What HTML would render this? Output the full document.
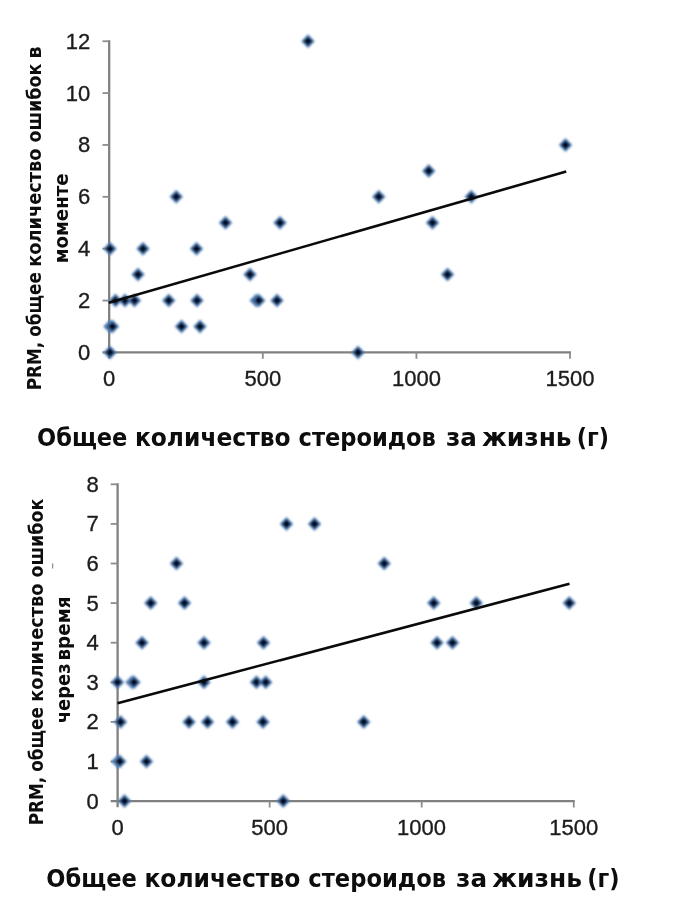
<!DOCTYPE html>
<html lang="ru">
<head>
<meta charset="utf-8">
<title>PRM и общее количество стероидов за жизнь</title>
<style>
html,body{margin:0;padding:0;background:#fff;}
body{width:680px;height:901px;overflow:hidden;position:relative;}
svg{position:absolute;left:0;top:0;display:block;}
.num{font-family:"Liberation Sans", "DejaVu Sans", sans-serif;font-size:22px;fill:#1c1c1c;stroke:#1c1c1c;stroke-width:0.35px;}
.ttl{font-family:"DejaVu Sans Condensed", "DejaVu Sans", "Liberation Sans", sans-serif;font-weight:700;font-size:25.4px;fill:#0d0d0d;}
.mo{fill:#5a88c0;}
.mi{fill:#050f26;}
.yl{font-family:"DejaVu Sans Condensed", "DejaVu Sans", "Liberation Sans", sans-serif;font-weight:700;font-size:19.6px;fill:#0d0d0d;}
</style>
</head>
<body>
<svg width="680" height="901" viewBox="0 0 680 901">
<defs>
<filter id="b" x="-5%" y="-5%" width="110%" height="110%"><feGaussianBlur stdDeviation="0.8"/></filter>
</defs>
<rect width="680" height="901" fill="#ffffff"/>

<g stroke="#808080" stroke-width="2.3" fill="none" stroke-linecap="butt">
<path d="M109.20,40.24 V358.60"/>
<path d="M102.50,352.40 H571.00"/>
<path d="M102.50,300.54 H109.20" stroke-width="1.8" stroke="#8c8c8c"/>
<path d="M102.50,248.68 H109.20" stroke-width="1.8" stroke="#8c8c8c"/>
<path d="M102.50,196.82 H109.20" stroke-width="1.8" stroke="#8c8c8c"/>
<path d="M102.50,144.96 H109.20" stroke-width="1.8" stroke="#8c8c8c"/>
<path d="M102.50,93.10 H109.20" stroke-width="1.8" stroke="#8c8c8c"/>
<path d="M102.50,41.24 H109.20" stroke-width="1.8" stroke="#8c8c8c"/>
<path d="M262.80,352.40 V358.80" stroke-width="1.8" stroke="#8c8c8c"/>
<path d="M416.40,352.40 V358.80" stroke-width="1.8" stroke="#8c8c8c"/>
<path d="M570.00,352.40 V358.80" stroke-width="1.8" stroke="#8c8c8c"/>
</g>
<text class="num" x="90.30" y="359.80" text-anchor="end">0</text>
<text class="num" x="90.30" y="307.94" text-anchor="end">2</text>
<text class="num" x="90.30" y="256.08" text-anchor="end">4</text>
<text class="num" x="90.30" y="204.22" text-anchor="end">6</text>
<text class="num" x="90.30" y="152.36" text-anchor="end">8</text>
<text class="num" x="90.30" y="100.50" text-anchor="end">10</text>
<text class="num" x="90.30" y="48.64" text-anchor="end">12</text>
<text class="num" x="109.20" y="386.20" text-anchor="middle">0</text>
<text class="num" x="262.80" y="386.20" text-anchor="middle">500</text>
<text class="num" x="416.40" y="386.20" text-anchor="middle">1000</text>
<text class="num" x="570.00" y="386.20" text-anchor="middle">1500</text>
<g filter="url(#b)">
<g transform="translate(110.00 352.40)"><path class="mo" d="M0,-7 L6.8,0 L0,7 L-6.8,0 Z"/><path class="mi" d="M0,-4.8 L4.8,0 L0,4.8 L-4.8,0 Z"/></g>
<g transform="translate(110.00 326.47)"><path class="mo" d="M0,-7 L6.8,0 L0,7 L-6.8,0 Z"/><path class="mi" d="M0,-4.8 L4.8,0 L0,4.8 L-4.8,0 Z"/></g>
<g transform="translate(112.50 326.47)"><path class="mo" d="M0,-7 L6.8,0 L0,7 L-6.8,0 Z"/><path class="mi" d="M0,-4.8 L4.8,0 L0,4.8 L-4.8,0 Z"/></g>
<g transform="translate(110.00 248.68)"><path class="mo" d="M0,-7 L6.8,0 L0,7 L-6.8,0 Z"/><path class="mi" d="M0,-4.8 L4.8,0 L0,4.8 L-4.8,0 Z"/></g>
<g transform="translate(115.50 300.54)"><path class="mo" d="M0,-7 L6.8,0 L0,7 L-6.8,0 Z"/><path class="mi" d="M0,-4.8 L4.8,0 L0,4.8 L-4.8,0 Z"/></g>
<g transform="translate(125.00 300.54)"><path class="mo" d="M0,-7 L6.8,0 L0,7 L-6.8,0 Z"/><path class="mi" d="M0,-4.8 L4.8,0 L0,4.8 L-4.8,0 Z"/></g>
<g transform="translate(134.50 300.54)"><path class="mo" d="M0,-7 L6.8,0 L0,7 L-6.8,0 Z"/><path class="mi" d="M0,-4.8 L4.8,0 L0,4.8 L-4.8,0 Z"/></g>
<g transform="translate(138.00 274.61)"><path class="mo" d="M0,-7 L6.8,0 L0,7 L-6.8,0 Z"/><path class="mi" d="M0,-4.8 L4.8,0 L0,4.8 L-4.8,0 Z"/></g>
<g transform="translate(143.00 248.68)"><path class="mo" d="M0,-7 L6.8,0 L0,7 L-6.8,0 Z"/><path class="mi" d="M0,-4.8 L4.8,0 L0,4.8 L-4.8,0 Z"/></g>
<g transform="translate(168.75 300.54)"><path class="mo" d="M0,-7 L6.8,0 L0,7 L-6.8,0 Z"/><path class="mi" d="M0,-4.8 L4.8,0 L0,4.8 L-4.8,0 Z"/></g>
<g transform="translate(176.25 196.82)"><path class="mo" d="M0,-7 L6.8,0 L0,7 L-6.8,0 Z"/><path class="mi" d="M0,-4.8 L4.8,0 L0,4.8 L-4.8,0 Z"/></g>
<g transform="translate(181.50 326.47)"><path class="mo" d="M0,-7 L6.8,0 L0,7 L-6.8,0 Z"/><path class="mi" d="M0,-4.8 L4.8,0 L0,4.8 L-4.8,0 Z"/></g>
<g transform="translate(196.50 248.68)"><path class="mo" d="M0,-7 L6.8,0 L0,7 L-6.8,0 Z"/><path class="mi" d="M0,-4.8 L4.8,0 L0,4.8 L-4.8,0 Z"/></g>
<g transform="translate(197.00 300.54)"><path class="mo" d="M0,-7 L6.8,0 L0,7 L-6.8,0 Z"/><path class="mi" d="M0,-4.8 L4.8,0 L0,4.8 L-4.8,0 Z"/></g>
<g transform="translate(200.00 326.47)"><path class="mo" d="M0,-7 L6.8,0 L0,7 L-6.8,0 Z"/><path class="mi" d="M0,-4.8 L4.8,0 L0,4.8 L-4.8,0 Z"/></g>
<g transform="translate(225.50 222.75)"><path class="mo" d="M0,-7 L6.8,0 L0,7 L-6.8,0 Z"/><path class="mi" d="M0,-4.8 L4.8,0 L0,4.8 L-4.8,0 Z"/></g>
<g transform="translate(250.00 274.61)"><path class="mo" d="M0,-7 L6.8,0 L0,7 L-6.8,0 Z"/><path class="mi" d="M0,-4.8 L4.8,0 L0,4.8 L-4.8,0 Z"/></g>
<g transform="translate(256.25 300.54)"><path class="mo" d="M0,-7 L6.8,0 L0,7 L-6.8,0 Z"/><path class="mi" d="M0,-4.8 L4.8,0 L0,4.8 L-4.8,0 Z"/></g>
<g transform="translate(258.75 300.54)"><path class="mo" d="M0,-7 L6.8,0 L0,7 L-6.8,0 Z"/><path class="mi" d="M0,-4.8 L4.8,0 L0,4.8 L-4.8,0 Z"/></g>
<g transform="translate(277.00 300.54)"><path class="mo" d="M0,-7 L6.8,0 L0,7 L-6.8,0 Z"/><path class="mi" d="M0,-4.8 L4.8,0 L0,4.8 L-4.8,0 Z"/></g>
<g transform="translate(280.00 222.75)"><path class="mo" d="M0,-7 L6.8,0 L0,7 L-6.8,0 Z"/><path class="mi" d="M0,-4.8 L4.8,0 L0,4.8 L-4.8,0 Z"/></g>
<g transform="translate(308.00 41.24)"><path class="mo" d="M0,-7 L6.8,0 L0,7 L-6.8,0 Z"/><path class="mi" d="M0,-4.8 L4.8,0 L0,4.8 L-4.8,0 Z"/></g>
<g transform="translate(358.00 352.40)"><path class="mo" d="M0,-7 L6.8,0 L0,7 L-6.8,0 Z"/><path class="mi" d="M0,-4.8 L4.8,0 L0,4.8 L-4.8,0 Z"/></g>
<g transform="translate(378.75 196.82)"><path class="mo" d="M0,-7 L6.8,0 L0,7 L-6.8,0 Z"/><path class="mi" d="M0,-4.8 L4.8,0 L0,4.8 L-4.8,0 Z"/></g>
<g transform="translate(428.75 170.89)"><path class="mo" d="M0,-7 L6.8,0 L0,7 L-6.8,0 Z"/><path class="mi" d="M0,-4.8 L4.8,0 L0,4.8 L-4.8,0 Z"/></g>
<g transform="translate(432.50 222.75)"><path class="mo" d="M0,-7 L6.8,0 L0,7 L-6.8,0 Z"/><path class="mi" d="M0,-4.8 L4.8,0 L0,4.8 L-4.8,0 Z"/></g>
<g transform="translate(447.50 274.61)"><path class="mo" d="M0,-7 L6.8,0 L0,7 L-6.8,0 Z"/><path class="mi" d="M0,-4.8 L4.8,0 L0,4.8 L-4.8,0 Z"/></g>
<g transform="translate(471.25 196.82)"><path class="mo" d="M0,-7 L6.8,0 L0,7 L-6.8,0 Z"/><path class="mi" d="M0,-4.8 L4.8,0 L0,4.8 L-4.8,0 Z"/></g>
<g transform="translate(565.50 144.96)"><path class="mo" d="M0,-7 L6.8,0 L0,7 L-6.8,0 Z"/><path class="mi" d="M0,-4.8 L4.8,0 L0,4.8 L-4.8,0 Z"/></g>
</g>
<path d="M108.70,302.63 L566.25,171.50" stroke="#0a0a0a" stroke-width="2.6" fill="none"/>
<g stroke="#808080" stroke-width="2.3" fill="none" stroke-linecap="butt">
<path d="M117.60,483.30 V807.30"/>
<path d="M110.70,801.10 H574.75"/>
<path d="M110.70,761.50 H117.60" stroke-width="1.8" stroke="#8c8c8c"/>
<path d="M110.70,721.90 H117.60" stroke-width="1.8" stroke="#8c8c8c"/>
<path d="M110.70,682.30 H117.60" stroke-width="1.8" stroke="#8c8c8c"/>
<path d="M110.70,642.70 H117.60" stroke-width="1.8" stroke="#8c8c8c"/>
<path d="M110.70,603.10 H117.60" stroke-width="1.8" stroke="#8c8c8c"/>
<path d="M110.70,563.50 H117.60" stroke-width="1.8" stroke="#8c8c8c"/>
<path d="M110.70,523.90 H117.60" stroke-width="1.8" stroke="#8c8c8c"/>
<path d="M110.70,484.30 H117.60" stroke-width="1.8" stroke="#8c8c8c"/>
<path d="M269.65,801.10 V807.50" stroke-width="1.8" stroke="#8c8c8c"/>
<path d="M421.70,801.10 V807.50" stroke-width="1.8" stroke="#8c8c8c"/>
<path d="M573.75,801.10 V807.50" stroke-width="1.8" stroke="#8c8c8c"/>
</g>
<text class="num" x="98.80" y="808.50" text-anchor="end">0</text>
<text class="num" x="98.80" y="768.90" text-anchor="end">1</text>
<text class="num" x="98.80" y="729.30" text-anchor="end">2</text>
<text class="num" x="98.80" y="689.70" text-anchor="end">3</text>
<text class="num" x="98.80" y="650.10" text-anchor="end">4</text>
<text class="num" x="98.80" y="610.50" text-anchor="end">5</text>
<text class="num" x="98.80" y="570.90" text-anchor="end">6</text>
<text class="num" x="98.80" y="531.30" text-anchor="end">7</text>
<text class="num" x="98.80" y="491.70" text-anchor="end">8</text>
<text class="num" x="117.50" y="835.40" text-anchor="middle">0</text>
<text class="num" x="269.55" y="835.40" text-anchor="middle">500</text>
<text class="num" x="421.60" y="835.40" text-anchor="middle">1000</text>
<text class="num" x="573.65" y="835.40" text-anchor="middle">1500</text>
<g filter="url(#b)">
<g transform="translate(117.50 682.30)"><path class="mo" d="M0,-7 L6.8,0 L0,7 L-6.8,0 Z"/><path class="mi" d="M0,-4.8 L4.8,0 L0,4.8 L-4.8,0 Z"/></g>
<g transform="translate(132.00 682.30)"><path class="mo" d="M0,-7 L6.8,0 L0,7 L-6.8,0 Z"/><path class="mi" d="M0,-4.8 L4.8,0 L0,4.8 L-4.8,0 Z"/></g>
<g transform="translate(134.00 682.30)"><path class="mo" d="M0,-7 L6.8,0 L0,7 L-6.8,0 Z"/><path class="mi" d="M0,-4.8 L4.8,0 L0,4.8 L-4.8,0 Z"/></g>
<g transform="translate(142.00 642.70)"><path class="mo" d="M0,-7 L6.8,0 L0,7 L-6.8,0 Z"/><path class="mi" d="M0,-4.8 L4.8,0 L0,4.8 L-4.8,0 Z"/></g>
<g transform="translate(150.75 603.10)"><path class="mo" d="M0,-7 L6.8,0 L0,7 L-6.8,0 Z"/><path class="mi" d="M0,-4.8 L4.8,0 L0,4.8 L-4.8,0 Z"/></g>
<g transform="translate(176.50 563.50)"><path class="mo" d="M0,-7 L6.8,0 L0,7 L-6.8,0 Z"/><path class="mi" d="M0,-4.8 L4.8,0 L0,4.8 L-4.8,0 Z"/></g>
<g transform="translate(184.50 603.10)"><path class="mo" d="M0,-7 L6.8,0 L0,7 L-6.8,0 Z"/><path class="mi" d="M0,-4.8 L4.8,0 L0,4.8 L-4.8,0 Z"/></g>
<g transform="translate(204.00 642.70)"><path class="mo" d="M0,-7 L6.8,0 L0,7 L-6.8,0 Z"/><path class="mi" d="M0,-4.8 L4.8,0 L0,4.8 L-4.8,0 Z"/></g>
<g transform="translate(204.00 682.30)"><path class="mo" d="M0,-7 L6.8,0 L0,7 L-6.8,0 Z"/><path class="mi" d="M0,-4.8 L4.8,0 L0,4.8 L-4.8,0 Z"/></g>
<g transform="translate(263.50 642.70)"><path class="mo" d="M0,-7 L6.8,0 L0,7 L-6.8,0 Z"/><path class="mi" d="M0,-4.8 L4.8,0 L0,4.8 L-4.8,0 Z"/></g>
<g transform="translate(256.50 682.30)"><path class="mo" d="M0,-7 L6.8,0 L0,7 L-6.8,0 Z"/><path class="mi" d="M0,-4.8 L4.8,0 L0,4.8 L-4.8,0 Z"/></g>
<g transform="translate(265.75 682.30)"><path class="mo" d="M0,-7 L6.8,0 L0,7 L-6.8,0 Z"/><path class="mi" d="M0,-4.8 L4.8,0 L0,4.8 L-4.8,0 Z"/></g>
<g transform="translate(120.50 721.90)"><path class="mo" d="M0,-7 L6.8,0 L0,7 L-6.8,0 Z"/><path class="mi" d="M0,-4.8 L4.8,0 L0,4.8 L-4.8,0 Z"/></g>
<g transform="translate(117.80 761.50)"><path class="mo" d="M0,-7 L6.8,0 L0,7 L-6.8,0 Z"/><path class="mi" d="M0,-4.8 L4.8,0 L0,4.8 L-4.8,0 Z"/></g>
<g transform="translate(119.80 761.50)"><path class="mo" d="M0,-7 L6.8,0 L0,7 L-6.8,0 Z"/><path class="mi" d="M0,-4.8 L4.8,0 L0,4.8 L-4.8,0 Z"/></g>
<g transform="translate(124.50 801.10)"><path class="mo" d="M0,-7 L6.8,0 L0,7 L-6.8,0 Z"/><path class="mi" d="M0,-4.8 L4.8,0 L0,4.8 L-4.8,0 Z"/></g>
<g transform="translate(146.50 761.50)"><path class="mo" d="M0,-7 L6.8,0 L0,7 L-6.8,0 Z"/><path class="mi" d="M0,-4.8 L4.8,0 L0,4.8 L-4.8,0 Z"/></g>
<g transform="translate(189.00 721.90)"><path class="mo" d="M0,-7 L6.8,0 L0,7 L-6.8,0 Z"/><path class="mi" d="M0,-4.8 L4.8,0 L0,4.8 L-4.8,0 Z"/></g>
<g transform="translate(207.50 721.90)"><path class="mo" d="M0,-7 L6.8,0 L0,7 L-6.8,0 Z"/><path class="mi" d="M0,-4.8 L4.8,0 L0,4.8 L-4.8,0 Z"/></g>
<g transform="translate(232.50 721.90)"><path class="mo" d="M0,-7 L6.8,0 L0,7 L-6.8,0 Z"/><path class="mi" d="M0,-4.8 L4.8,0 L0,4.8 L-4.8,0 Z"/></g>
<g transform="translate(263.00 721.90)"><path class="mo" d="M0,-7 L6.8,0 L0,7 L-6.8,0 Z"/><path class="mi" d="M0,-4.8 L4.8,0 L0,4.8 L-4.8,0 Z"/></g>
<g transform="translate(286.50 523.90)"><path class="mo" d="M0,-7 L6.8,0 L0,7 L-6.8,0 Z"/><path class="mi" d="M0,-4.8 L4.8,0 L0,4.8 L-4.8,0 Z"/></g>
<g transform="translate(314.50 523.90)"><path class="mo" d="M0,-7 L6.8,0 L0,7 L-6.8,0 Z"/><path class="mi" d="M0,-4.8 L4.8,0 L0,4.8 L-4.8,0 Z"/></g>
<g transform="translate(384.25 563.50)"><path class="mo" d="M0,-7 L6.8,0 L0,7 L-6.8,0 Z"/><path class="mi" d="M0,-4.8 L4.8,0 L0,4.8 L-4.8,0 Z"/></g>
<g transform="translate(363.75 721.90)"><path class="mo" d="M0,-7 L6.8,0 L0,7 L-6.8,0 Z"/><path class="mi" d="M0,-4.8 L4.8,0 L0,4.8 L-4.8,0 Z"/></g>
<g transform="translate(283.25 801.10)"><path class="mo" d="M0,-7 L6.8,0 L0,7 L-6.8,0 Z"/><path class="mi" d="M0,-4.8 L4.8,0 L0,4.8 L-4.8,0 Z"/></g>
<g transform="translate(433.75 603.10)"><path class="mo" d="M0,-7 L6.8,0 L0,7 L-6.8,0 Z"/><path class="mi" d="M0,-4.8 L4.8,0 L0,4.8 L-4.8,0 Z"/></g>
<g transform="translate(476.25 603.10)"><path class="mo" d="M0,-7 L6.8,0 L0,7 L-6.8,0 Z"/><path class="mi" d="M0,-4.8 L4.8,0 L0,4.8 L-4.8,0 Z"/></g>
<g transform="translate(569.25 603.10)"><path class="mo" d="M0,-7 L6.8,0 L0,7 L-6.8,0 Z"/><path class="mi" d="M0,-4.8 L4.8,0 L0,4.8 L-4.8,0 Z"/></g>
<g transform="translate(437.00 642.70)"><path class="mo" d="M0,-7 L6.8,0 L0,7 L-6.8,0 Z"/><path class="mi" d="M0,-4.8 L4.8,0 L0,4.8 L-4.8,0 Z"/></g>
<g transform="translate(452.50 642.70)"><path class="mo" d="M0,-7 L6.8,0 L0,7 L-6.8,0 Z"/><path class="mi" d="M0,-4.8 L4.8,0 L0,4.8 L-4.8,0 Z"/></g>
</g>
<path d="M117.50,703.25 L569.50,583.75" stroke="#0a0a0a" stroke-width="2.6" fill="none"/>
<path d="M52.6,563.5 V568.5" stroke="#8a8a8a" stroke-width="1.2"/>
<text class="ttl" y="445.7"><tspan x="37.02" textLength="90.34" lengthAdjust="spacingAndGlyphs">Общее</tspan> <tspan x="134.95" textLength="155.63" lengthAdjust="spacingAndGlyphs">количество</tspan> <tspan x="298.51" textLength="137.42" lengthAdjust="spacingAndGlyphs">стероидов</tspan> <tspan x="445.92" textLength="30.91" lengthAdjust="spacingAndGlyphs">за</tspan> <tspan x="481.96" textLength="89.63" lengthAdjust="spacingAndGlyphs">жизнь</tspan> <tspan x="576.78" textLength="32.26" lengthAdjust="spacingAndGlyphs">(г)</tspan></text>
<text class="ttl" y="886.5"><tspan x="46.26" textLength="90.54" lengthAdjust="spacingAndGlyphs">Общее</tspan> <tspan x="144.42" textLength="155.98" lengthAdjust="spacingAndGlyphs">количество</tspan> <tspan x="308.33" textLength="137.72" lengthAdjust="spacingAndGlyphs">стероидов</tspan> <tspan x="456.07" textLength="30.98" lengthAdjust="spacingAndGlyphs">за</tspan> <tspan x="492.18" textLength="89.83" lengthAdjust="spacingAndGlyphs">жизнь</tspan> <tspan x="587.22" textLength="32.33" lengthAdjust="spacingAndGlyphs">(г)</tspan></text>
<text class="yl" transform="rotate(-90)"><tspan x="-390.23" y="41.10" textLength="48.40" lengthAdjust="spacingAndGlyphs">PRM,</tspan> <tspan x="-336.71" y="41.10" textLength="64.62" lengthAdjust="spacingAndGlyphs">общее</tspan> <tspan x="-266.81" y="41.10" textLength="118.36" lengthAdjust="spacingAndGlyphs">количество</tspan> <tspan x="-142.54" y="41.10" textLength="78.78" lengthAdjust="spacingAndGlyphs">ошибок</tspan> <tspan x="-58.66" y="41.10" textLength="12.37" lengthAdjust="spacingAndGlyphs">в</tspan></text>
<text class="yl" transform="rotate(-90)"><tspan x="-263.35" y="68.20" textLength="89.92" lengthAdjust="spacingAndGlyphs">моменте</tspan></text>
<text class="yl" transform="rotate(-90)"><tspan x="-825.23" y="43.10" textLength="48.40" lengthAdjust="spacingAndGlyphs">PRM,</tspan> <tspan x="-771.71" y="43.10" textLength="64.62" lengthAdjust="spacingAndGlyphs">общее</tspan> <tspan x="-701.81" y="43.10" textLength="118.36" lengthAdjust="spacingAndGlyphs">количество</tspan> <tspan x="-577.54" y="43.10" textLength="78.78" lengthAdjust="spacingAndGlyphs">ошибок</tspan></text>
<text class="yl" transform="rotate(-90)"><tspan x="-723.27" y="70.00" textLength="59.93" lengthAdjust="spacingAndGlyphs">через</tspan> <tspan x="-660.56" y="70.00" textLength="64.10" lengthAdjust="spacingAndGlyphs">время</tspan></text>
</svg>
</body>
</html>
